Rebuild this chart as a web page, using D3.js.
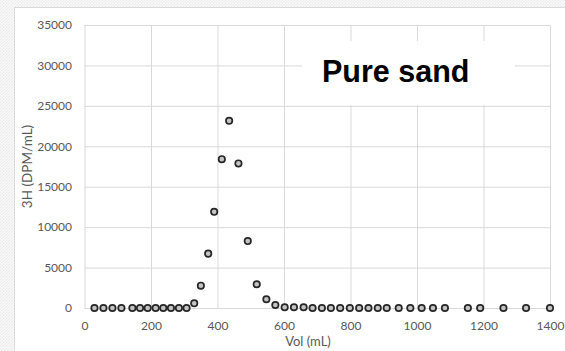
<!DOCTYPE html>
<html>
<head>
<meta charset="utf-8">
<script src="https://cdn.jsdelivr.net/npm/d3@7"></script>
<style>
  html, body { margin: 0; padding: 0; background: #fff; }
  svg { display: block; }
</style>
</head>
<body>
<svg id="chart" width="565" height="351"></svg>
<script>
// Tritium breakthrough curve through a pure sand column
const volumes = [30, 57, 84, 111, 144, 167, 190, 214, 237, 260, 284, 307,
                 330, 350, 372, 390, 413, 435, 463, 491, 518, 547, 574,
                 602, 630, 659, 686, 714, 741, 769, 798, 826, 854, 882, 909,
                 945, 980, 1014, 1048, 1084, 1153, 1190, 1260, 1328, 1400];
const activity = [0, 0, 0, 0, 0, 0, 0, 0, 0, 0, 0, 0,
                  580, 2760, 6720, 11900, 18400, 23150, 17880, 8280, 2940, 1080, 370,
                  90, 90, 90, 0, 0, 0, 0, 0, 0, 0, 0, 0,
                  0, 0, 0, 0, 0, 0, 0, 0, 0, 0];
const xTicks = [0, 200, 400, 600, 800, 1000, 1200, 1400];
const yTicks = [0, 5000, 10000, 15000, 20000, 25000, 30000, 35000];
const xTitle = "Vol (mL)";
const yTitle = "3H (DPM/mL)";
const panelLabel = "Pure sand";

const svg = d3.select("#chart");
const W = 565, H = 351;
const plot = { left: 84.5, right: 550, top: 25, bottom: 308 };

// textured page behind the chart frame
const defs = svg.append("defs");
const pat = defs.append("pattern").attr("id", "grain")
  .attr("width", 3).attr("height", 3).attr("patternUnits", "userSpaceOnUse");
pat.append("rect").attr("width", 3).attr("height", 3).attr("fill", "#f7f7f7");
pat.append("rect").attr("x", 0).attr("y", 0).attr("width", 1).attr("height", 1).attr("fill", "#e9e9e9");
pat.append("rect").attr("x", 2).attr("y", 1).attr("width", 1).attr("height", 1).attr("fill", "#ececec");
pat.append("rect").attr("x", 1).attr("y", 2).attr("width", 1).attr("height", 1).attr("fill", "#eeeeee");
svg.append("rect").attr("width", W).attr("height", H).attr("fill", "url(#grain)");

// chart frame
svg.append("rect")
  .attr("x", 14.5).attr("y", 7.5).attr("width", W).attr("height", H)
  .attr("fill", "#fff").attr("stroke", "#d9d9d9").attr("stroke-width", 1);

const x = d3.scaleLinear().domain([0, 1400]).range([plot.left, plot.right]);
const y = d3.scaleLinear().domain([0, 35000]).range([plot.bottom, plot.top]);

const tickFont = "Lato, 'Open Sans', sans-serif";

// vertical gridlines + x labels
const gx = svg.append("g")
  .attr("transform", `translate(0,${plot.bottom})`)
  .call(d3.axisBottom(x).tickValues(xTicks).tickFormat(d3.format("d"))
    .tickSize(-(plot.bottom - plot.top)).tickPadding(13));
gx.select(".domain").remove();
gx.selectAll("line").attr("stroke", "#d9d9d9");
gx.selectAll("text").attr("fill", "#595959").attr("font-family", tickFont).attr("font-size", 12);

// horizontal gridlines + y labels
const gy = svg.append("g")
  .attr("transform", `translate(${plot.left},0)`)
  .call(d3.axisLeft(y).tickValues(yTicks).tickFormat(d3.format("d"))
    .tickSize(-(plot.right - plot.left)).tickPadding(12.5));
gy.select(".domain").remove();
gy.selectAll("line").attr("stroke", "#d9d9d9");
gy.selectAll("text").attr("fill", "#595959").attr("font-family", tickFont).attr("font-size", 12);

// axis titles
svg.append("text")
  .attr("x", 308).attr("y", 345.5)
  .attr("text-anchor", "middle")
  .attr("fill", "#595959").attr("font-family", tickFont).attr("font-size", 13)
  .text(xTitle);
svg.append("text")
  .attr("transform", `translate(32,${(plot.top + plot.bottom) / 2}) rotate(-90)`)
  .attr("text-anchor", "middle")
  .attr("fill", "#595959").attr("font-family", tickFont).attr("font-size", 13.5)
  .text(yTitle);

// panel label on a white box
svg.append("rect")
  .attr("x", 302).attr("y", 41).attr("width", 213).attr("height", 64)
  .attr("fill", "#fff");
svg.append("text")
  .attr("x", 322).attr("y", 81.5)
  .attr("fill", "#000").attr("font-family", "'Liberation Sans', Arial, sans-serif")
  .attr("font-weight", "bold").attr("font-size", 30.5)
  .text(panelLabel);

// data markers
const pts = volumes.map((v, i) => ({ v, a: activity[i] }));
svg.append("g").selectAll("circle").data(pts).join("circle")
  .attr("cx", d => x(d.v)).attr("cy", d => y(d.a))
  .attr("r", 3.2)
  .attr("fill", "#c4c4c4")
  .attr("stroke", "#262626").attr("stroke-width", 1.7);
</script>
</body>
</html>
